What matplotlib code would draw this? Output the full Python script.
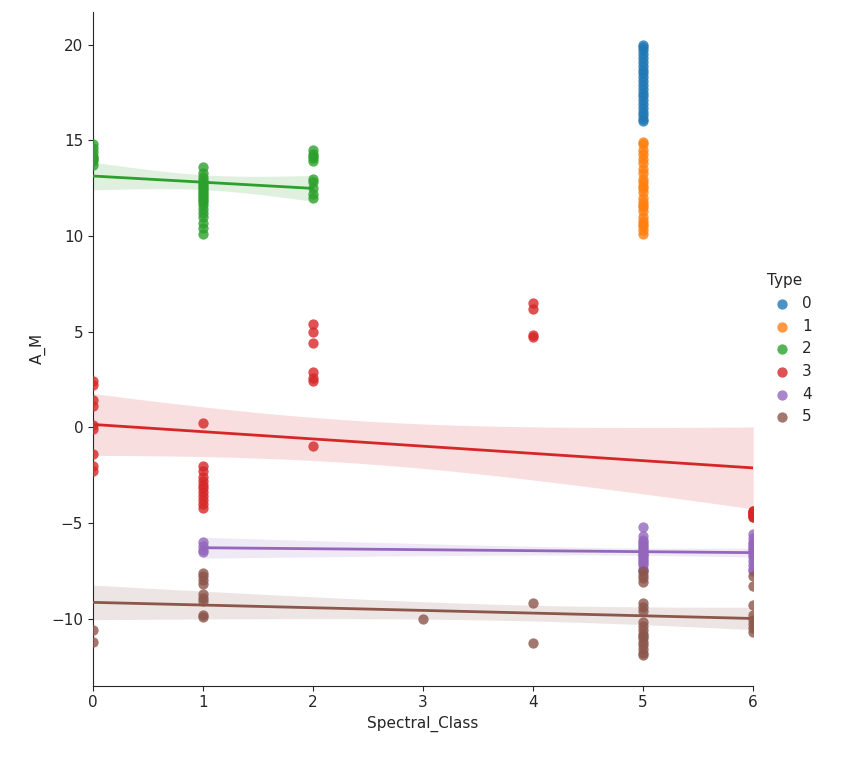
import numpy as np
import matplotlib
matplotlib.use("Agg")
import matplotlib.pyplot as plt
import seaborn as sns

sns.set_style("ticks")
plt.rcParams["font.size"] = 11

# Data: (spectral class, absolute magnitude) per star type
t0_x = [5]*22
t0_y = [16.1,16.3,16.5,16.7,16.9,17.1,17.3,17.5,17.7,17.9,18.1,18.3,18.5,18.7,18.9,19.1,19.3,19.5,19.7,19.9,20.0,16.0]
t1_x = [5]*24
t1_y = [10.1,10.3,10.5,10.8,11.0,11.3,11.5,11.8,12.0,12.3,12.5,12.8,13.0,13.3,13.5,13.8,14.0,14.3,14.5,14.8,14.9,10.6,11.6,12.6]
t2_x = [0]*8 + [1]*22 + [2]*10
t2_y = [13.7,13.9,14.0,14.2,14.4,14.6,14.8,14.1,
        10.1,10.4,10.7,11.0,11.2,11.4,11.6,11.8,11.9,12.0,12.1,12.2,12.3,12.4,12.5,12.6,12.7,12.8,12.9,13.1,13.3,13.6,
        12.0,12.2,12.5,12.8,13.0,13.9,14.1,14.3,14.5,14.2]
t3_x = [0]*9 + [1]*12 + [2]*7 + [4]*4 + [6]*9
t3_y = [-2.3,-2.0,-1.4,-0.1,0.1,1.1,1.4,2.2,2.4,
        -4.2,-4.0,-3.8,-3.6,-3.4,-3.2,-3.0,-2.8,-2.6,-2.3,-2.0,0.2,
        -1.0,2.4,2.6,2.9,4.4,5.0,5.4,
        4.7,4.8,6.2,6.5,
        -4.4,-4.5,-4.6,-4.7,-4.4,-4.5,-4.6,-4.7,-4.5]
t4_x = [1]*4 + [5]*18 + [6]*14
t4_y = [-6.0,-6.2,-6.4,-6.5,
        -5.2,-5.7,-5.9,-6.0,-6.1,-6.2,-6.3,-6.4,-6.5,-6.6,-6.7,-6.8,-6.9,-7.0,-7.1,-7.2,-7.4,-7.5,
        -5.6,-5.8,-6.0,-6.1,-6.2,-6.3,-6.4,-6.5,-6.6,-6.8,-7.0,-7.2,-7.4,-7.5]
t5_x = [0]*2 + [1]*9 + [3] + [4]*2 + [5]*18 + [6]*8
t5_y = [-10.6,-11.2,
        -7.6,-7.8,-8.0,-8.2,-8.7,-8.9,-9.1,-9.8,-9.9,
        -10.0,
        -9.2,-11.3,
        -7.5,-7.7,-7.9,-8.1,-9.2,-9.4,-9.6,-10.2,-10.4,-10.6,-10.8,-11.0,-11.2,-11.4,-11.6,-11.8,-11.9,-10.9,
        -7.8,-8.3,-9.3,-9.8,-10.3,-10.5,-10.7,-10.1]

types = ["0","1","2","3","4","5"]
xs = [t0_x,t1_x,t2_x,t3_x,t4_x,t5_x]
ys = [t0_y,t1_y,t2_y,t3_y,t4_y,t5_y]
colors = sns.color_palette("tab10", 6)

fig = plt.figure(figsize=(8.52,7.6), dpi=100)
ax = fig.add_axes([0.109,0.098,0.775,0.886])

for lab, x, y, c in zip(types, xs, ys, colors):
    x = np.array(x, float); y = np.array(y, float)
    ax.scatter(x, y, color=c, alpha=0.8, s=55, linewidths=0, label=lab, zorder=3)
    if len(np.unique(x)) > 1:
        b, a = np.polyfit(x, y, 1)
        grid = np.linspace(x.min(), x.max(), 100)
        pred = a + b*grid
        n = len(x)
        res = y - (a + b*x)
        s = np.sqrt((res**2).sum()/(n-2))
        sxx = ((x - x.mean())**2).sum()
        se = s*np.sqrt(1/n + (grid - x.mean())**2/sxx)
        ax.fill_between(grid, pred-2.0*se, pred+2.0*se, color=c, alpha=0.15, linewidth=0)
        ax.plot(grid, pred, color=c, lw=2, zorder=4)

ax.set_xlim(0, 6)
ax.set_ylim(-13.5, 21.7)
ax.set_xticks(range(7))
ax.set_yticks([-10,-5,0,5,10,15,20])
ax.set_xlabel("Spectral_Class")
ax.set_ylabel("A_M")
sns.despine(ax=ax)
leg = ax.legend(title="Type", frameon=False, loc="center left", bbox_to_anchor=(1.0, 0.5),
                handletextpad=0.3, markerscale=1.0)
leg._legend_box.align = "left"
fig.savefig("out.png", dpi=100)
